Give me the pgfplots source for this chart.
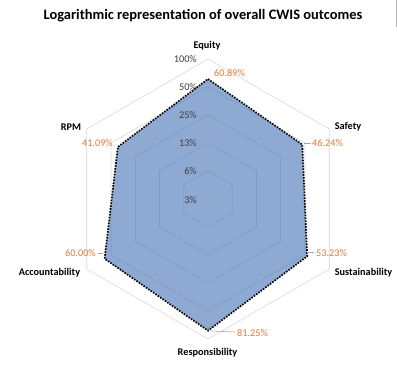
\documentclass[border=0pt]{standalone}
\usepackage{fontspec}
\setmainfont{Carlito}
\usepackage{pgfplots}
\usepackage{pgfplotstable}
\pgfplotsset{compat=1.18}
\definecolor{gridcol}{HTML}{D9D9D9}
\definecolor{fillcol}{RGB}{67,113,180}
\definecolor{lblcol}{HTML}{E07B39}
\definecolor{tickcol}{HTML}{404040}
\definecolor{leadcol}{HTML}{A6A6A6}

\pgfplotstableread{
angle value
90 60.89
30 46.24
-30 53.23
-90 81.25
210 60.00
150 41.09
90 60.89
}\cwis

\begin{document}
\begin{tikzpicture}
\begin{axis}[
  hide axis, scale only axis,
  width=397bp, height=368bp,
  xmin=-208, xmax=189, ymin=-169, ymax=199,
  clip=false,
]
% hexagonal grid (log2 scale: 3.125% at centre, each ring doubles)
\pgfplotsinvokeforeach{28,56,84,112,140}{
  \draw[gridcol, line width=0.6pt, shift={(axis cs:0,0)}] (90:#1bp) -- (30:#1bp) -- (-30:#1bp) -- (-90:#1bp) -- (210:#1bp) -- (150:#1bp) -- cycle;
}

% series
\addplot[fill=fillcol, fill opacity=0.6, draw=black, line width=1.7pt,
  dash pattern=on 1.6pt off 1.3pt]
  table[x expr={28*ln(\thisrow{value}/3.125)/ln(2)*cos(\thisrow{angle})},
        y expr={28*ln(\thisrow{value}/3.125)/ln(2)*sin(\thisrow{angle})}] {\cwis};

% tick labels
\begin{scope}[every node/.style={font=\fontsize{10.3}{12}\selectfont, text=tickcol, anchor=east, inner sep=0pt}]
\node at (axis cs:-11,140) {100\%};
\node at (axis cs:-11,112) {50\%};
\node at (axis cs:-11,84) {25\%};
\node at (axis cs:-11,56) {13\%};
\node at (axis cs:-11,28) {6\%};
\node at (axis cs:-11,-1) {3\%};
\end{scope}

% leader lines
\draw[leadcol, line width=0.6pt] (axis cs:96,56) -- (axis cs:103,56);
\draw[leadcol, line width=0.6pt] (axis cs:99,-53) -- (axis cs:106,-53);
\draw[leadcol, line width=0.6pt] (axis cs:3,-132) -- (axis cs:27,-133);
\draw[leadcol, line width=0.6pt] (axis cs:-110,-54) -- (axis cs:-105,-54);

% data labels
\begin{scope}[every node/.style={font=\fontsize{10.3}{12}\selectfont, text=lblcol, inner sep=0pt}]
\node[anchor=west] at (axis cs:6,126) {60.89\%};
\node[anchor=west] at (axis cs:104,56) {46.24\%};
\node[anchor=west] at (axis cs:108,-54) {53.23\%};
\node[anchor=west] at (axis cs:29,-134) {81.25\%};
\node[anchor=east] at (axis cs:-112,-54) {60.00\%};
\node[anchor=east] at (axis cs:-95,56) {41.09\%};
\end{scope}

% category labels
\begin{scope}[every node/.style={font=\fontsize{10.3}{12}\selectfont\bfseries, text=black, inner sep=0pt}]
\node at (axis cs:-1,153) {Equity};
\node at (axis cs:140,72) {Safety};
\node at (axis cs:155.5,-74) {Sustainability};
\node at (axis cs:-0.5,-154) {Responsibility};
\node at (axis cs:-158.5,-74) {Accountability};
\node at (axis cs:-137,72) {RPM};
\end{scope}

% title
\node[font=\fontsize{14.5}{17}\selectfont\bfseries, inner sep=0pt] at (axis cs:-5,183)
  {Logarithmic representation of overall CWIS outcomes};

\draw[gray!60, line width=1pt] (axis cs:188,199) -- (axis cs:188,172);
\end{axis}
\pgfresetboundingbox
\path (current axis.south west) rectangle (current axis.north east);
\end{tikzpicture}
\end{document}
